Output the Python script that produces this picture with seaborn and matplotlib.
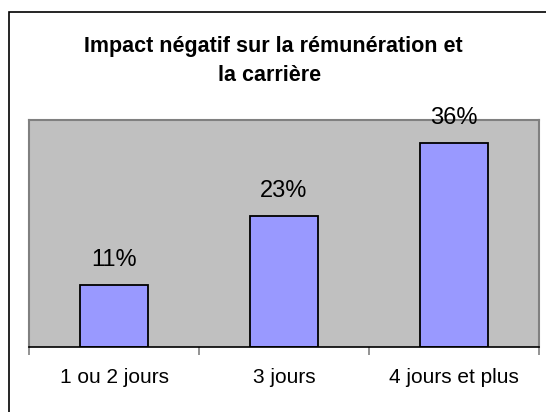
"""
Impact négatif sur la rémunération et la carrière - barres
"""

import matplotlib
matplotlib.use('Agg')
import matplotlib.pyplot as plt
import seaborn as sns
import pandas as pd
from matplotlib.patches import Rectangle
from matplotlib.ticker import FixedLocator

categories = ['1 ou 2 jours', '3 jours', '4 jours et plus']
values = [11, 23, 36]
value_labels = ['11%', '23%', '36%']
title_lines = ['Impact négatif sur la rémunération et', 'la carrière']

sns.set_style('white')
plt.rcParams['font.family'] = ['Liberation Sans', 'DejaVu Sans']
plt.rcParams['text.color'] = 'black'

df = pd.DataFrame({'categorie': categories, 'pourcentage': values})

fig = plt.figure(figsize=(5.46, 4.12), dpi=100)
fig.patch.set_facecolor('white')

# cadre extérieur (coupé à droite et en bas)
fig.patches.append(Rectangle((9 / 546, -0.1), 1.2, 1 - 12 / 412 + 0.1,
                             transform=fig.transFigure, fill=False,
                             edgecolor='black', linewidth=1.2))

ax = fig.add_axes([29 / 546, 1 - 347 / 412, 510 / 546, 227 / 412])
ax.set_facecolor('#C0C0C0')

sns.barplot(data=df, x='categorie', y='pourcentage', ax=ax, color='#9999FF',
            width=0.4, edgecolor='black', linewidth=1.3, saturation=1)

ax.set_ylim(0, 40)
ax.set_xlim(-0.5, 2.5)
ax.set_yticks([])
ax.set_xlabel('')
ax.set_ylabel('')

for sp in ['left', 'top', 'right']:
    ax.spines[sp].set_color('#808080')
    ax.spines[sp].set_linewidth(1.5)
ax.spines['bottom'].set_color('black')
ax.spines['bottom'].set_linewidth(1.2)

# graduations entre les catégories
ax.xaxis.set_minor_locator(FixedLocator([-0.5, 0.5, 1.5, 2.5]))
ax.tick_params(axis='x', which='minor', length=6, width=1.2, color='#808080',
               direction='out', bottom=True)
ax.tick_params(axis='x', which='major', length=0, pad=15, labelsize=15,
               colors='black')

for i, (v, lab) in enumerate(zip(values, value_labels)):
    ax.annotate(lab, (i, v), xytext=(0, 19 * 0.72), textcoords='offset points',
                ha='center', va='baseline', fontsize=17, annotation_clip=False)

fig.text(273 / 546, 1 - 52 / 412, title_lines[0], ha='center', va='baseline',
         fontsize=15.5, fontweight='bold')
fig.text(270 / 546, 1 - 81 / 412, title_lines[1], ha='center', va='baseline',
         fontsize=15.5, fontweight='bold')

plt.savefig('out.png', dpi=100, facecolor='white')
